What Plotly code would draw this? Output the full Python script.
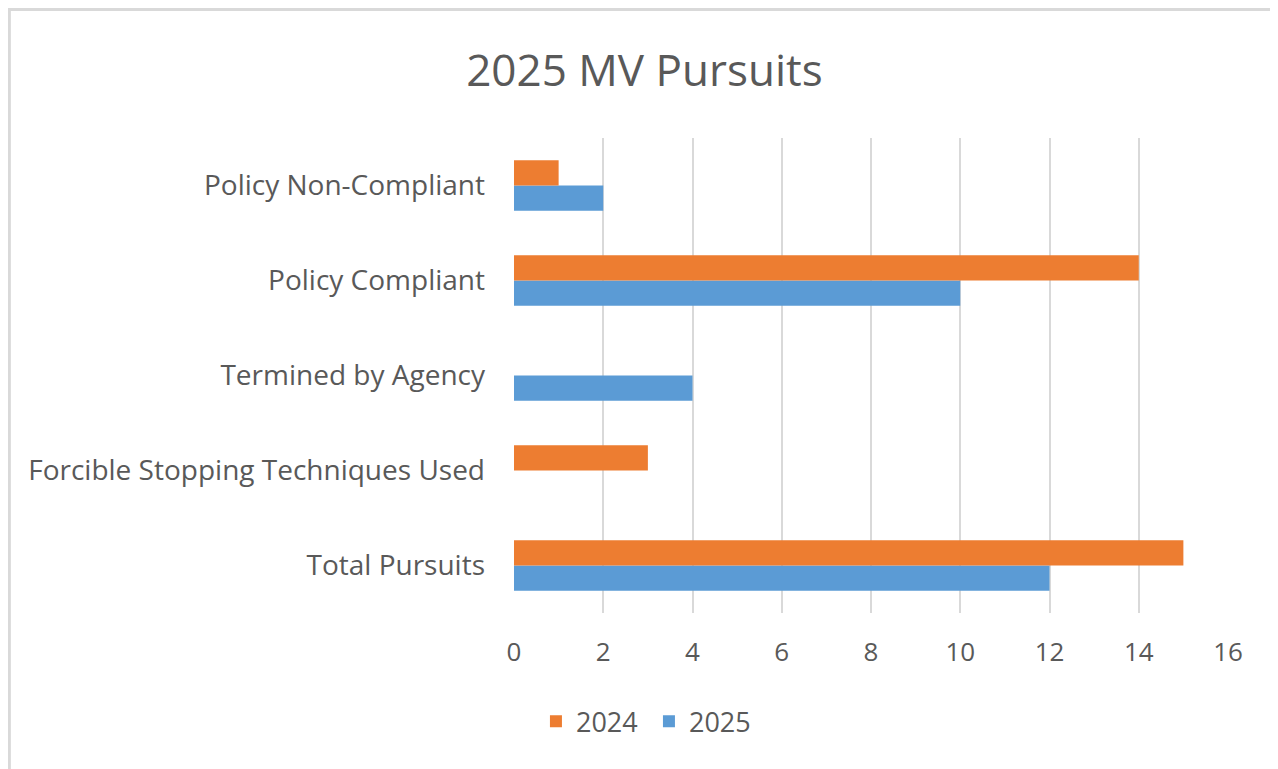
import plotly.graph_objects as go

# Data (bottom to top as drawn)
categories = ["Total Pursuits", "Forcible Stopping Techniques Used", "Termined by Agency",
              "Policy Compliant", "Policy Non-Compliant"]
values_2024 = [15, 3, 0, 14, 1]
values_2025 = [12, 0, 4, 10, 2]
x_ticks = [0, 2, 4, 6, 8, 10, 12, 14, 16]

ORANGE = "#ED7D31"
BLUE = "#5B9BD5"
TEXT = "#595959"
FONT = "Open Sans"

fig = go.Figure()

# 2025 first so that 2024 sits above it in each group
fig.add_trace(go.Bar(y=categories, x=values_2025, name="2025", orientation="h",
                     marker=dict(color=BLUE, line=dict(width=0))))
fig.add_trace(go.Bar(y=categories, x=values_2024, name="2024", orientation="h",
                     marker=dict(color=ORANGE, line=dict(width=0))))

fig.update_layout(
    width=1278, height=769,
    margin=dict(l=505.5, r=58, t=130, b=164),
    paper_bgcolor="white", plot_bgcolor="white",
    barmode="group", bargap=0.47, bargroupgap=0,
    font=dict(family=FONT, color=TEXT, size=24),
    title=dict(text="2025 MV Pursuits", x=0.498, xref="container", xanchor="center",
               y=0.919, yanchor="middle", font=dict(family=FONT, size=44, color=TEXT)),
    legend=dict(orientation="h", traceorder="reversed", x=0.189, xanchor="center",
                y=-0.229, yanchor="middle", font=dict(size=27, color=TEXT),
                itemwidth=30, entrywidth=68, tracegroupgap=0),
    xaxis=dict(range=[0, 16], tickvals=x_ticks, showgrid=True, gridcolor="#D9D9D9",
               gridwidth=1.5, zeroline=False, showline=False, ticks="",
               ticklabelstandoff=21, tickfont=dict(size=26, color=TEXT)),
    yaxis=dict(showgrid=False, zeroline=False, showline=False, ticks="",
               ticklabelstandoff=28, tickfont=dict(size=28, color=TEXT)),
    shapes=[dict(type="rect", xref="paper", yref="paper",
                 x0=-0.7068, x1=1.2, y0=-0.5, y1=1.2705,
                 line=dict(color="#D9D9D9", width=3), fillcolor="rgba(0,0,0,0)",
                 layer="below")],
)

fig.write_html("out.html")
